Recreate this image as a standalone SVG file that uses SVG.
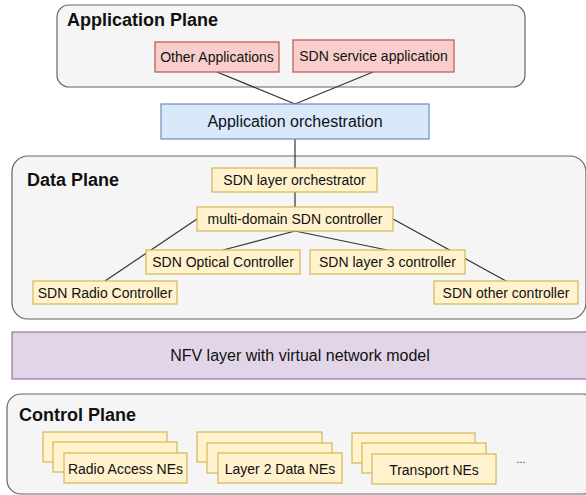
<svg xmlns="http://www.w3.org/2000/svg" width="586" height="495" viewBox="0 0 586 495">
  <style>
    text { font-family: "Liberation Sans", Arial, Helvetica, sans-serif; fill: #111; }
    .plane { fill: #f5f5f5; stroke: #666666; stroke-width: 1.2; }
    .title { font-size: 18px; font-weight: bold; }
    .red { fill: #f8cecc; stroke: #b85450; stroke-width: 1.2; }
    .blue { fill: #dae8fc; stroke: #6c8ebf; stroke-width: 1.2; }
    .purple { fill: #e1d5e7; stroke: #9673a6; stroke-width: 1.2; }
    .yellow { fill: #fff2cc; stroke: #d6b656; stroke-width: 1.2; }
    .lbl { font-size: 14px; text-anchor: middle; }
    .big { font-size: 16px; text-anchor: middle; }
    .conn line { stroke: #333333; stroke-width: 1.2; fill: none; }
  </style>

  <g id="application-plane">
    <rect class="plane" x="57" y="5" width="468" height="82" rx="12" ry="12"/>
    <text class="title" x="67" y="26">Application Plane</text>
  </g>

  <g id="data-plane">
    <rect class="plane" x="12" y="156" width="574" height="163" rx="16" ry="16"/>
    <text class="title" x="27" y="186">Data Plane</text>
  </g>

  <g id="control-plane">
    <rect class="plane" x="7" y="394" width="590" height="100" rx="14" ry="14"/>
    <text class="title" x="19" y="421">Control Plane</text>
  </g>

  <g id="connectors" class="conn">
    <line x1="217" y1="72" x2="295" y2="104"/>
    <line x1="373" y1="72" x2="295" y2="104"/>
    <line x1="295" y1="139" x2="295" y2="168"/>
    <line x1="295" y1="192" x2="295" y2="207"/>
    <line x1="197" y1="219" x2="105" y2="281"/>
    <line x1="295" y1="231" x2="223" y2="250"/>
    <line x1="295" y1="231" x2="387" y2="250"/>
    <line x1="393" y1="219" x2="506" y2="281"/>
  </g>

  <g id="other-applications">
    <rect class="red" x="155" y="42" width="124" height="30"/>
    <text class="lbl" x="217" y="62">Other Applications</text>
  </g>

  <g id="sdn-service-application">
    <rect class="red" x="293" y="40" width="161" height="32"/>
    <text class="lbl" x="373.5" y="61">SDN service application</text>
  </g>

  <g id="application-orchestration">
    <rect class="blue" x="161" y="104" width="268" height="35"/>
    <text class="big" x="295" y="127">Application orchestration</text>
  </g>

  <g id="sdn-layer-orchestrator">
    <rect class="yellow" x="212" y="168" width="165" height="24"/>
    <text class="lbl" x="294.5" y="185">SDN layer orchestrator</text>
  </g>

  <g id="multi-domain-sdn-controller">
    <rect class="yellow" x="197" y="207" width="196" height="24"/>
    <text class="lbl" x="295" y="224">multi-domain SDN controller</text>
  </g>

  <g id="sdn-optical-controller">
    <rect class="yellow" x="146" y="250" width="154" height="24"/>
    <text class="lbl" x="223" y="267">SDN Optical Controller</text>
  </g>

  <g id="sdn-layer3-controller">
    <rect class="yellow" x="310" y="250" width="155" height="24"/>
    <text class="lbl" x="387.5" y="267">SDN layer 3 controller</text>
  </g>

  <g id="sdn-radio-controller">
    <rect class="yellow" x="33" y="281" width="144" height="23"/>
    <text class="lbl" x="105" y="297.5">SDN Radio Controller</text>
  </g>

  <g id="sdn-other-controller">
    <rect class="yellow" x="434" y="281" width="144" height="23"/>
    <text class="lbl" x="506" y="297.5">SDN other controller</text>
  </g>

  <g id="nfv-layer">
    <rect class="purple" x="12" y="332" width="577" height="47"/>
    <text class="big" x="300" y="361">NFV layer with virtual network model</text>
  </g>

  <g id="radio-access-nes">
    <rect class="yellow" x="43" y="432" width="124" height="30"/>
    <rect class="yellow" x="53" y="442" width="124" height="30"/>
    <rect class="yellow" x="64" y="453" width="123" height="30"/>
    <text class="lbl" x="125.5" y="474">Radio Access NEs</text>
  </g>

  <g id="layer2-data-nes">
    <rect class="yellow" x="197" y="432" width="125" height="30"/>
    <rect class="yellow" x="207" y="443" width="125" height="30"/>
    <rect class="yellow" x="218" y="453" width="124" height="30"/>
    <text class="lbl" x="280" y="474">Layer 2 Data NEs</text>
  </g>

  <g id="transport-nes">
    <rect class="yellow" x="352" y="433" width="123" height="30"/>
    <rect class="yellow" x="362" y="443" width="124" height="30"/>
    <rect class="yellow" x="372" y="454" width="124" height="30"/>
    <text class="lbl" x="434" y="475">Transport NEs</text>
  </g>

  <g id="ellipsis">
    <text x="521" y="463" style="font-size:11px; text-anchor:middle; fill:#333;">...</text>
  </g>
</svg>
